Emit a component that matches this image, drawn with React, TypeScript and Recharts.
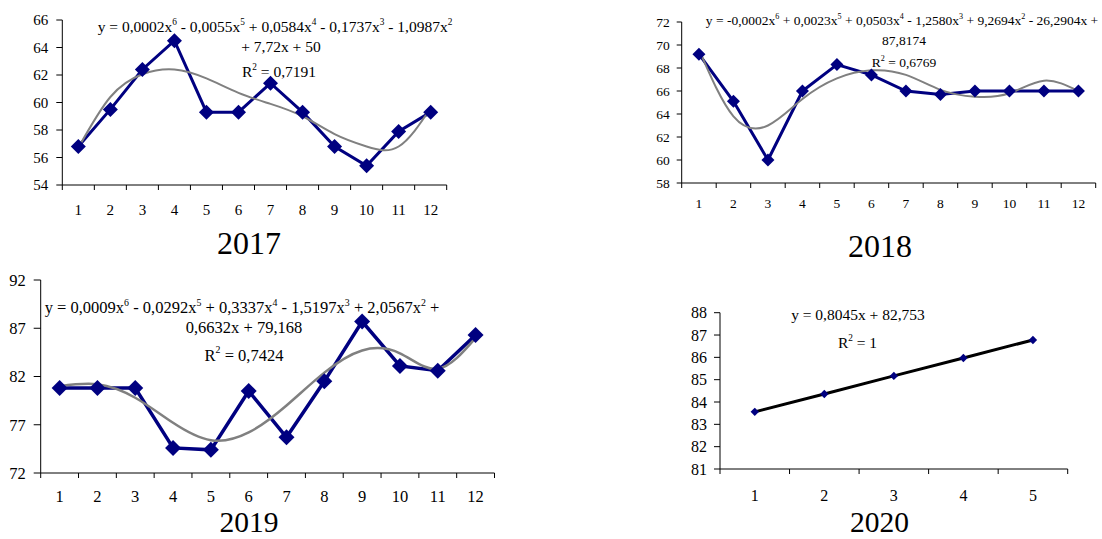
import { Line, LineChart, XAxis, YAxis } from 'recharts'

const months = [1, 2, 3, 4, 5, 6, 7, 8, 9, 10, 11, 12]
const months2020 = [1, 2, 3, 4, 5]

const values2017 = [56.8, 59.5, 62.4, 64.5, 59.3, 59.3, 61.4, 59.3, 56.8, 55.4, 57.9, 59.3]
const trend2017 = [56.7, 60.4, 62.05, 62.4, 61.75, 60.7, 59.9, 59.0, 57.7, 56.8, 56.8, 59.6]
const yTicks2017 = [54, 56, 58, 60, 62, 64, 66]

const values2018 = [69.2, 65.1, 60.0, 66.0, 68.3, 67.4, 66.0, 65.7, 66.0, 66.0, 66.0, 66.0]
const trend2018 = [69.6, 63.8, 63.0, 65.3, 67.1, 67.8, 67.4, 66.1, 65.5, 65.8, 66.9, 66.0]
const yTicks2018 = [58, 60, 62, 64, 66, 68, 70, 72]

const values2019 = [80.8, 80.8, 80.8, 74.6, 74.4, 80.5, 75.7, 81.5, 87.7, 83.1, 82.6, 86.3]
const trend2019 = [81.0, 81.2, 79.8, 77.2, 75.4, 76.2, 79.0, 82.4, 84.7, 84.4, 82.8, 86.0]
const yTicks2019 = [72, 77, 82, 87, 92]

const values2020 = [83.56, 84.36, 85.17, 85.97, 86.78]
const trend2020 = [83.56, 84.36, 85.17, 85.97, 86.78]
const yTicks2020 = [81, 82, 83, 84, 85, 86, 87, 88]

const SERIF = '"Liberation Serif", "Times New Roman", serif'
const NAVY = '#000080'

// labels at the categories, tick marks between them (Excel style)
const axisTicks = (cats: number[]) => {
  const out = [cats[0] - 0.5]
  cats.forEach((c) => {
    out.push(c)
    out.push(c + 0.5)
  })
  return out
}

const Diamond = (props: any) => {
  const { cx, cy, r, index } = props
  if (cx == null || cy == null) return <g key={index} />
  return (
    <path
      key={index}
      d={`M${cx},${cy - r}L${cx + r},${cy}L${cx},${cy + r}L${cx - r},${cy}Z`}
      fill={NAVY}
    />
  )
}

type PanelProps = {
  left: number
  top: number
  width: number
  height: number
  margin: { top: number; right: number; bottom: number; left: number }
  yWidth: number
  cats: number[]
  values: number[]
  trend: number[]
  yTicks: number[]
  fontSize: number
  labelGap: number
  tickSize: number
  tickMargin: number
  dotSize: number
  lineWidth: number
  trendColor: string
  trendWidth: number
  trendType: 'natural' | 'linear'
}

const Panel = (p: PanelProps) => {
  const rows = p.cats.map((c, i) => ({ x: c, value: p.values[i], trend: p.trend[i] }))
  const xTick = (t: any) => {
    const v = t.payload.value
    if (Number.isInteger(v)) {
      return (
        <text
          key={t.index}
          x={t.x}
          y={t.y + p.labelGap}
          dy="0.35em"
          textAnchor="middle"
          fontSize={p.fontSize}
          fontFamily={SERIF}
          fill="#000"
        >
          {v}
        </text>
      )
    }
    return <line key={t.index} x1={t.x} x2={t.x} y1={t.y} y2={t.y + 5} stroke="#000" />
  }
  return (
    <div style={{ position: 'absolute', left: p.left, top: p.top }}>
      <LineChart width={p.width} height={p.height} data={rows} margin={p.margin}>
        <XAxis
          dataKey="x"
          type="number"
          domain={[p.cats[0] - 0.5, p.cats[p.cats.length - 1] + 0.5]}
          ticks={axisTicks(p.cats)}
          interval={0}
          tickLine={false}
          tickSize={0}
          tickMargin={0}
          height={30}
          axisLine={{ stroke: '#000' }}
          tick={xTick}
        />
        <YAxis
          domain={[p.yTicks[0], p.yTicks[p.yTicks.length - 1]]}
          ticks={p.yTicks}
          interval={0}
          width={p.yWidth}
          tickSize={p.tickSize}
          tickMargin={p.tickMargin}
          axisLine={{ stroke: '#000' }}
          tickLine={{ stroke: '#000' }}
          tick={{ fontSize: p.fontSize, fill: '#000', fontFamily: SERIF }}
          allowDataOverflow
        />
        <Line
          dataKey="value"
          type="linear"
          stroke={NAVY}
          strokeWidth={p.lineWidth}
          dot={(d: any) => <Diamond {...d} r={p.dotSize} />}
          activeDot={false}
          isAnimationActive={false}
        />
        <Line
          dataKey="trend"
          type={p.trendType}
          stroke={p.trendColor}
          strokeWidth={p.trendWidth}
          dot={false}
          activeDot={false}
          isAnimationActive={false}
        />
      </LineChart>
    </div>
  )
}

// cy is the vertical middle of the digits; line box kept tight
const Caption = ({ cx, cy, size, children }: { cx: number; cy: number; size: number; children: any }) => (
  <div
    style={{
      position: 'absolute',
      left: cx,
      top: cy - size * 0.3825,
      transform: 'translateX(-50%)',
      whiteSpace: 'nowrap',
      fontFamily: SERIF,
      fontSize: size,
      lineHeight: 0.75,
      color: '#000',
    }}
  >
    {children}
  </div>
)

const Sup = ({ children }: { children: any }) => (
  <span style={{ fontSize: '0.6em', position: 'relative', top: '-0.75em' }}>{children}</span>
)

export default function App() {
  return (
    <div style={{ position: 'absolute', left: 0, top: 0, width: 1102, height: 539, background: '#fff' }}>
      <Panel
        left={0}
        top={0}
        width={470}
        height={260}
        margin={{ top: 20, right: 23.3, bottom: 45, left: 0 }}
        yWidth={62.3}
        cats={months}
        values={values2017}
        trend={trend2017}
        yTicks={yTicks2017}
        fontSize={15}
        labelGap={25}
        tickSize={6}
        tickMargin={8}
        dotSize={7.5}
        lineWidth={3}
        trendColor="#808080"
        trendWidth={2}
        trendType="natural"
      />
      <Panel
        left={620}
        top={0}
        width={482}
        height={260}
        margin={{ top: 22, right: 6.3, bottom: 47, left: 0 }}
        yWidth={61.7}
        cats={months}
        values={values2018}
        trend={trend2018}
        yTicks={yTicks2018}
        fontSize={13.5}
        labelGap={20}
        tickSize={5}
        tickMargin={7}
        dotSize={6.5}
        lineWidth={3}
        trendColor="#808080"
        trendWidth={2}
        trendType="natural"
      />
      <Panel
        left={0}
        top={260}
        width={520}
        height={279}
        margin={{ top: 20, right: 25.5, bottom: 36, left: 0 }}
        yWidth={40.7}
        cats={months}
        values={values2019}
        trend={trend2019}
        yTicks={yTicks2019}
        fontSize={16.5}
        labelGap={23}
        tickSize={7}
        tickMargin={8}
        dotSize={8}
        lineWidth={3.5}
        trendColor="#808080"
        trendWidth={2.5}
        trendType="natural"
      />
      <Panel
        left={660}
        top={260}
        width={442}
        height={279}
        margin={{ top: 52.7, right: 34.3, bottom: 40, left: 0 }}
        yWidth={60}
        cats={months2020}
        values={values2020}
        trend={trend2020}
        yTicks={yTicks2020}
        fontSize={16}
        labelGap={26}
        tickSize={6}
        tickMargin={7}
        dotSize={4.2}
        lineWidth={1.5}
        trendColor="#000"
        trendWidth={3}
        trendType="linear"
      />

      <Caption cx={275} cy={26.7} size={15.5}>
        y = 0,0002x<Sup>6</Sup> - 0,0055x<Sup>5</Sup> + 0,0584x<Sup>4</Sup> - 0,1737x<Sup>3</Sup> - 1,0987x<Sup>2</Sup>
      </Caption>
      <Caption cx={281} cy={47.3} size={15.5}>+ 7,72x + 50</Caption>
      <Caption cx={279} cy={71.7} size={15.5}>
        R<Sup>2</Sup> = 0,7191
      </Caption>

      <Caption cx={902} cy={21} size={13.5}>
        y = -0,0002x<Sup>6</Sup> + 0,0023x<Sup>5</Sup> + 0,0503x<Sup>4</Sup> - 1,2580x<Sup>3</Sup> + 9,2694x<Sup>2</Sup> - 26,2904x +
      </Caption>
      <Caption cx={904} cy={41} size={13.5}>87,8174</Caption>
      <Caption cx={904} cy={63.3} size={13.5}>
        R<Sup>2</Sup> = 0,6769
      </Caption>

      <Caption cx={242} cy={308.3} size={16.5}>
        y = 0,0009x<Sup>6</Sup> - 0,0292x<Sup>5</Sup> + 0,3337x<Sup>4</Sup> - 1,5197x<Sup>3</Sup> + 2,0567x<Sup>2</Sup> +
      </Caption>
      <Caption cx={244} cy={328.3} size={16.5}>0,6632x + 79,168</Caption>
      <Caption cx={244} cy={356} size={16.5}>
        R<Sup>2</Sup> = 0,7424
      </Caption>

      <Caption cx={858} cy={315} size={15.5}>y = 0,8045x + 82,753</Caption>
      <Caption cx={857.5} cy={343.3} size={15.5}>
        R<Sup>2</Sup> = 1
      </Caption>

      <Caption cx={249} cy={243} size={32}>2017</Caption>
      <Caption cx={880} cy={246} size={32}>2018</Caption>
      <Caption cx={249} cy={522.5} size={29.5}>2019</Caption>
      <Caption cx={879.5} cy={522.5} size={29.5}>2020</Caption>
    </div>
  )
}
